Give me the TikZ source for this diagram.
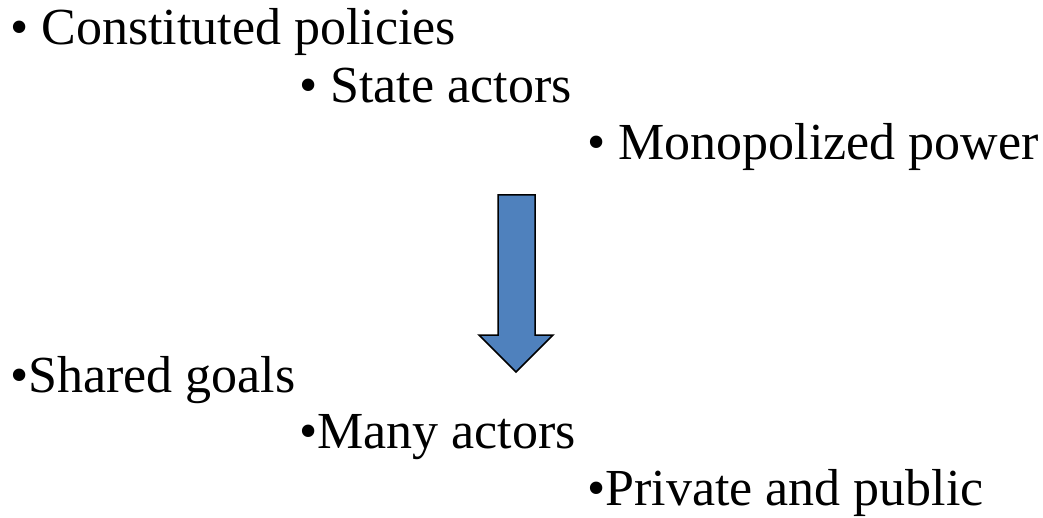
\documentclass[tikz,border=0pt]{standalone}
\usepackage{fontspec}
\setmainfont{Liberation Serif}
\usepackage{tikz}
\definecolor{arrowblue}{RGB}{79,129,189}

\begin{document}
\begin{tikzpicture}[x=1pt,y=1pt,
                point/.style={anchor=base west, inner sep=0pt, font=\fontsize{52}{60}\selectfont}]
                \useasboundingbox (0,0) rectangle (1043,517);
                \node[point] (policies) at (10,472) {• Constituted policies};
                \node[point] (state)    at (299,414) {• State actors};
                \node[point] (power)    at (587,357) {• Monopolized power};
                \node[point] (goals)    at (10,125) {•Shared goals};
                \node[point] (many)     at (299,69) {•Many actors};
                \node[point] (private)  at (587,12) {•Private and public};
                \coordinate (A) at (498,322);
                \coordinate (B) at (535,322);
                \coordinate (C) at (535,182);
                \coordinate (D) at (553,182);
                \coordinate (T) at (516,145);
                \coordinate (E) at (479,182);
                \coordinate (F) at (498,182);
                \draw[fill=arrowblue, line width=1.5pt, line join=miter] (A) -- (B) -- (C) -- (D) -- (T) -- (E) -- (F) -- cycle;
            \end{tikzpicture}
\end{document}
